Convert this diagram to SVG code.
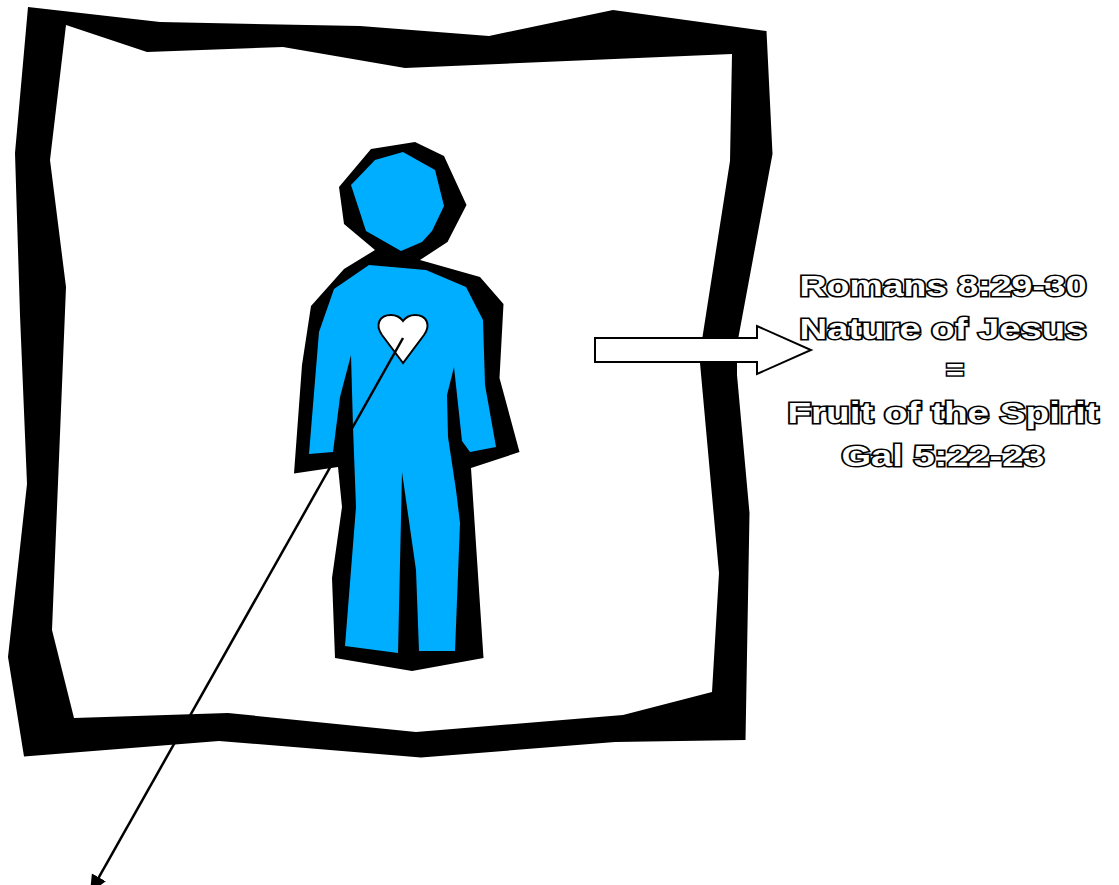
<svg xmlns="http://www.w3.org/2000/svg" width="1119" height="885" viewBox="0 0 1119 885">
<style>
.k{fill:#000;stroke:none}
.b{fill:#00aeff;stroke:none}
.o{fill:#fff;stroke:#000;stroke-width:2}
.t{font-family:"Liberation Sans",Arial,sans-serif;font-weight:700;font-size:29px;fill:#fff;stroke:#000;stroke-width:3px;paint-order:stroke;stroke-linejoin:miter;text-anchor:middle}
</style>
<defs><marker id="ah" markerUnits="userSpaceOnUse" markerWidth="22" markerHeight="22" refX="18" refY="8" orient="auto"><path d="M0,0L18,8L0,16Z" fill="#000"/></marker></defs>
<rect width="1119" height="885" fill="#fff"/>
<g id="frame"><path class="k" fill-rule="evenodd" d="M28,7L160,22L360,26L489,36L613,10L766.500,31L772.500,154L737,345L737,375L749.500,513L745.500,740L615,742L421,757.500L219,741L24,756.500L8,657L27,484L20,315L15,153ZM66,25L147,52L283,47L405,68L732,54L730,161L702,340L700,363L719,573L712,692L623,715L416,732L228,713L74,718L52,630L66,287L50,160Z"/></g>
<g id="person">
<path class="k" d="M371,149L415,142L444,156L466.500,205L447.500,242L420,260L480,277L503.500,304L499.500,378L519.500,452L471,468L483.500,658L412,671L335,658L332,578L342,507L338,467L294,473.500L302,365L311,306L344,269L375,250L344,224L339,187Z"/>
<path class="b" d="M375,160L403,152L435,170L444,206L432,231L422,242L401,251L366,231L351,185Z"/>
<path class="b" d="M369,265L426,270L466,287L483,320L485,385L496,447L470,452L462,441L454,367L447,395L448,437L456,490L460,523L455,651L419,651L416,570L402,472L398,653L345,646L356,507L353,427L351,355L340,397L333,452L309,454L319,332L334,289Z"/>
</g>
<g id="heart"><path class="o" d="M403,363L382,335C375,325 379,315 391,315C396,315 400,317 403,321C406,317 410,315 415,315C427,315 431,325 424,335Z"/></g>
<g id="connectors">
<path d="M403,338L90,893" fill="none" stroke="#000" stroke-width="2.500" marker-end="url(#ah)"/>
<path class="o" d="M595,338L757,338L757,326L811,350L757,374L757,362L595,362Z"/>
</g>
<g id="label">
<text class="t" x="943" y="296" textLength="287" lengthAdjust="spacingAndGlyphs">Romans 8:29-30</text>
<text class="t" x="943" y="339" textLength="287" lengthAdjust="spacingAndGlyphs">Nature of Jesus</text>
<text class="t" x="955" y="380" textLength="18" lengthAdjust="spacingAndGlyphs">=</text>
<text class="t" x="943" y="423" textLength="311" lengthAdjust="spacingAndGlyphs">Fruit of the Spirit</text>
<text class="t" x="943" y="466" textLength="203" lengthAdjust="spacingAndGlyphs">Gal 5:22-23</text>
</g>
</svg>
